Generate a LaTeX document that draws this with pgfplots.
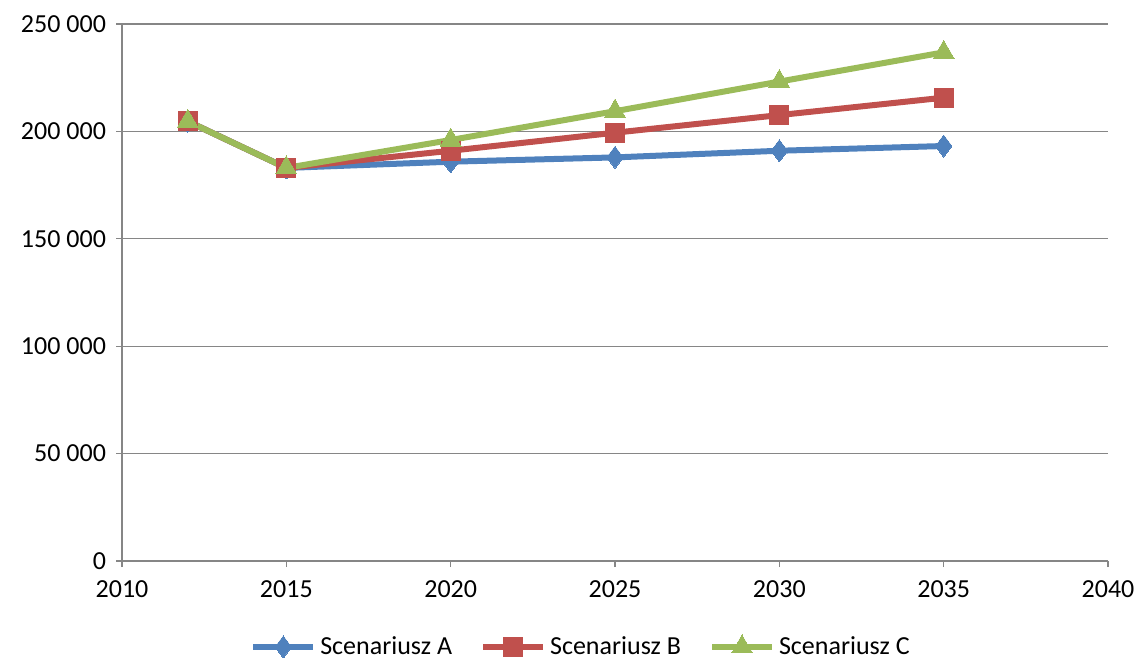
\documentclass[border=0pt]{standalone}
\usepackage{pgfplots}
\pgfplotsset{compat=1.18}
\usepackage{fontspec}
\setmainfont{Carlito}
\definecolor{sA}{HTML}{4F81BD}
\definecolor{sB}{HTML}{C0504D}
\definecolor{sC}{HTML}{9BBB59}
\definecolor{gridg}{HTML}{868686}
\begin{document}
\begin{tikzpicture}
\useasboundingbox (-61pt,-50pt) rectangle (508pt,280.5pt);
\begin{axis}[
  at={(0,0)}, anchor=south west,
  scale only axis, width=493pt, height=268.5pt,
  xmin=2010, xmax=2040, ymin=0, ymax=250000,
  scaled ticks=false,
  xtick={2010,2015,...,2040},
  ytick={0,50000,...,250000},
  yticklabels={0,50 000,100 000,150 000,200 000,250 000},
  xticklabels={2010,2015,2020,2025,2030,2035,2040},
  axis x line*=bottom, axis y line*=left,
  axis line style={gridg, line width=0.6pt, -},
  every tick/.style={gridg, line width=0.6pt},
  tick align=outside, major tick length=3pt,
  ymajorgrids, grid style={gridg, line width=0.6pt},
  tick label style={font=\fontsize{13}{15}\selectfont, black},
  xticklabel style={yshift=-3.5pt},
  yticklabel style={xshift=-1.5pt},
  legend style={at={(0.4665,-0.16)}, anchor=center, draw=none, fill=none,
    legend columns=3, font=\fontsize{13}{15}\selectfont,
    /tikz/every even column/.append style={column sep=12pt},
    inner sep=0pt},
  legend image code/.code={
    \draw[#1, mark repeat=2, mark phase=2] plot coordinates {(0pt,0pt) (15pt,0pt) (30pt,0pt)};},
]
\addplot[sA, line width=3pt, mark=diamond*, mark size=5.5pt, mark options={solid, line width=0pt}]
  coordinates {(2012,204700) (2015,183000) (2020,185900) (2025,187900) (2030,191000) (2035,193200)};
\addlegendentry{Scenariusz A}
\addplot[sB, line width=3pt, mark=square*, mark size=4.8pt, mark options={solid, line width=0pt}]
  coordinates {(2012,204700) (2015,183000) (2020,191000) (2025,199400) (2030,207600) (2035,215700)};
\addlegendentry{Scenariusz B}
\addplot[sC, line width=3pt, mark=triangle*, mark size=6pt, mark options={solid, line width=0pt}]
  coordinates {(2012,204700) (2015,183000) (2020,196000) (2025,209400) (2030,223200) (2035,236800)};
\addlegendentry{Scenariusz C}
\end{axis}
\end{tikzpicture}
\end{document}
